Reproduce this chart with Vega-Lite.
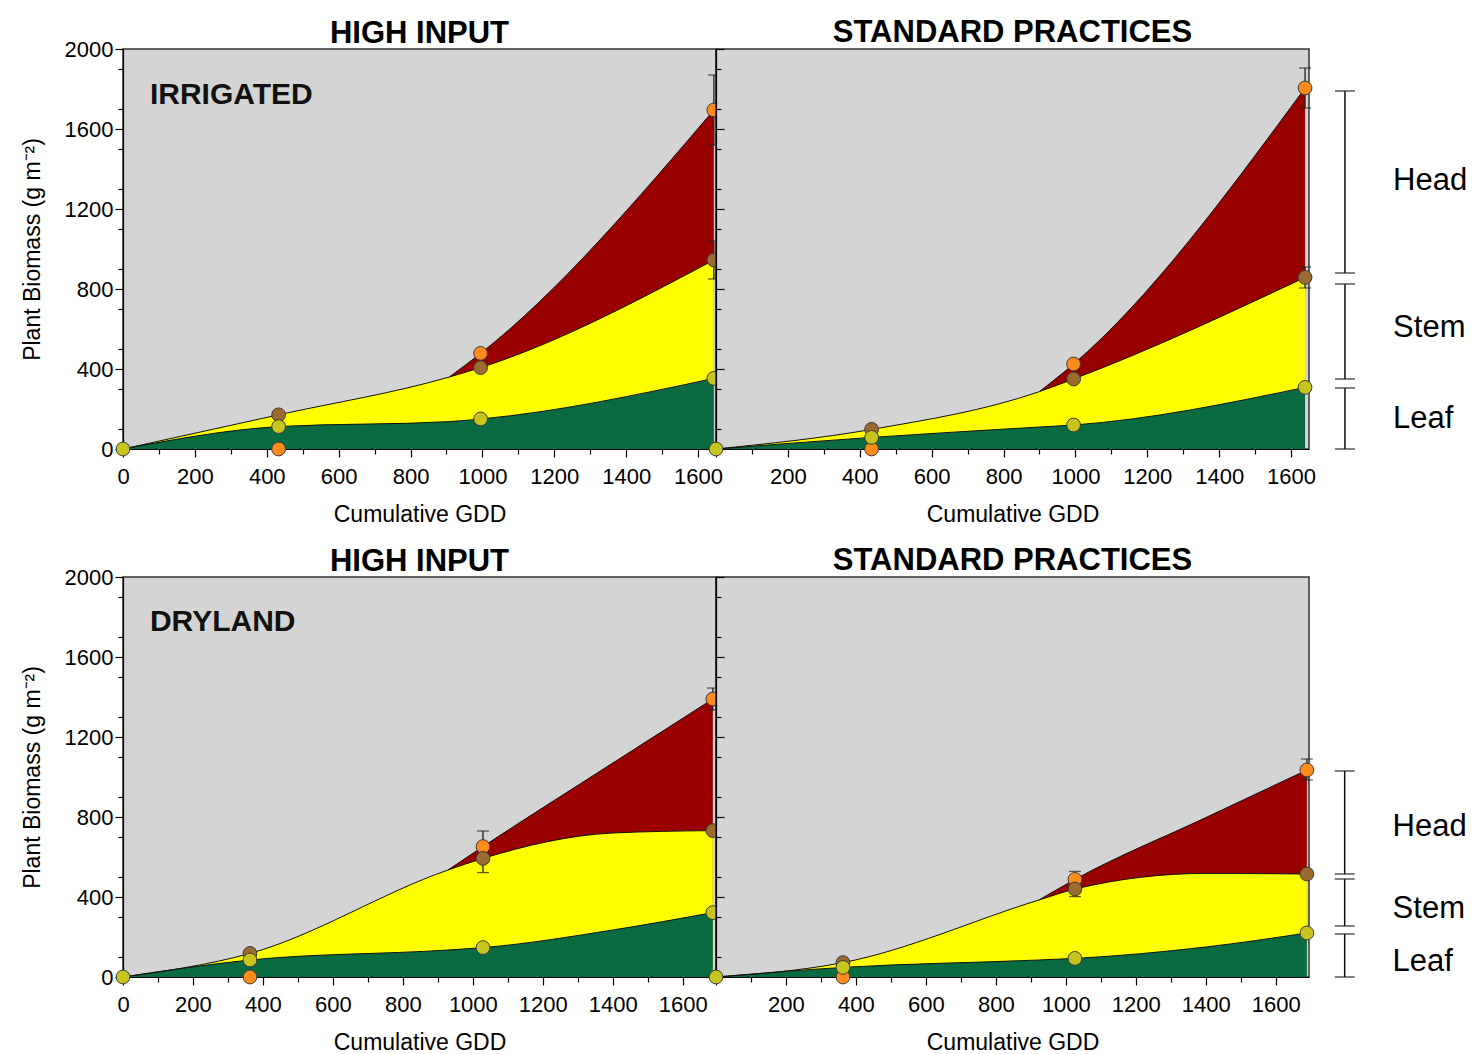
{
"$schema":"https://vega.github.io/schema/vega-lite/v6.json",
"background":"white",
"padding":{"left":20,"top":16,"right":0,"bottom":0},
"datasets":{
"curves":[
{"p":"TL","gdd":0,"leaf":0,"stem":0,"total":0},
{"p":"TL","gdd":433,"leaf":112,"stem":171,"total":171},
{"p":"TL","gdd":908,"leaf":137,"stem":360,"total":360},
{"p":"TL","gdd":995,"leaf":150,"stem":407,"total":478},
{"p":"TL","gdd":1644,"leaf":353,"stem":945,"total":1695},
{"p":"TR","gdd":0,"leaf":0,"stem":0,"total":0},
{"p":"TR","gdd":433,"leaf":58,"stem":98,"total":98},
{"p":"TR","gdd":900,"leaf":110,"stem":287,"total":287},
{"p":"TR","gdd":995,"leaf":120,"stem":350,"total":425},
{"p":"TR","gdd":1639,"leaf":308,"stem":858,"total":1805},
{"p":"BL","gdd":0,"leaf":0,"stem":0,"total":0},
{"p":"BL","gdd":363,"leaf":85,"stem":118,"total":118},
{"p":"BL","gdd":929,"leaf":135,"stem":535,"total":535},
{"p":"BL","gdd":1029,"leaf":147,"stem":593,"total":652},
{"p":"BL","gdd":1400,"leaf":235,"stem":720,"total":1070},
{"p":"BL","gdd":1686,"leaf":322,"stem":732,"total":1390},
{"p":"BR","gdd":0,"leaf":0,"stem":0,"total":0},
{"p":"BR","gdd":363,"leaf":48,"stem":72,"total":72},
{"p":"BR","gdd":923,"leaf":85,"stem":385,"total":385},
{"p":"BR","gdd":1026,"leaf":93,"stem":440,"total":488},
{"p":"BR","gdd":1400,"leaf":150,"stem":518,"total":797},
{"p":"BR","gdd":1689,"leaf":220,"stem":515,"total":1035}
],
"points":[
{"p":"TL","gdd":433,"part":"Head","value":0},
{"p":"TL","gdd":995,"part":"Head","value":478},
{"p":"TL","gdd":1644,"part":"Head","value":1695,"lo":1520,"hi":1870},
{"p":"TL","gdd":433,"part":"Stem","value":171},
{"p":"TL","gdd":995,"part":"Stem","value":407},
{"p":"TL","gdd":1644,"part":"Stem","value":945,"lo":850,"hi":1040},
{"p":"TL","gdd":0,"part":"Leaf","value":0},
{"p":"TL","gdd":433,"part":"Leaf","value":112},
{"p":"TL","gdd":995,"part":"Leaf","value":150},
{"p":"TL","gdd":1644,"part":"Leaf","value":353},
{"p":"TR","gdd":433,"part":"Head","value":0},
{"p":"TR","gdd":995,"part":"Head","value":425},
{"p":"TR","gdd":1639,"part":"Head","value":1805,"lo":1705,"hi":1905},
{"p":"TR","gdd":433,"part":"Stem","value":98},
{"p":"TR","gdd":995,"part":"Stem","value":350},
{"p":"TR","gdd":1639,"part":"Stem","value":858,"lo":805,"hi":910},
{"p":"TR","gdd":0,"part":"Leaf","value":0},
{"p":"TR","gdd":433,"part":"Leaf","value":58},
{"p":"TR","gdd":995,"part":"Leaf","value":120},
{"p":"TR","gdd":1639,"part":"Leaf","value":308},
{"p":"BL","gdd":363,"part":"Head","value":0},
{"p":"BL","gdd":1029,"part":"Head","value":652,"lo":574,"hi":730},
{"p":"BL","gdd":1686,"part":"Head","value":1390,"lo":1335,"hi":1445},
{"p":"BL","gdd":363,"part":"Stem","value":118},
{"p":"BL","gdd":1029,"part":"Stem","value":593,"lo":522,"hi":664},
{"p":"BL","gdd":1686,"part":"Stem","value":732},
{"p":"BL","gdd":0,"part":"Leaf","value":0},
{"p":"BL","gdd":363,"part":"Leaf","value":85},
{"p":"BL","gdd":1029,"part":"Leaf","value":147},
{"p":"BL","gdd":1686,"part":"Leaf","value":322},
{"p":"BR","gdd":363,"part":"Head","value":0},
{"p":"BR","gdd":1026,"part":"Head","value":488,"lo":448,"hi":528},
{"p":"BR","gdd":1689,"part":"Head","value":1035,"lo":985,"hi":1090},
{"p":"BR","gdd":363,"part":"Stem","value":72},
{"p":"BR","gdd":1026,"part":"Stem","value":440,"lo":402,"hi":478},
{"p":"BR","gdd":1689,"part":"Stem","value":515},
{"p":"BR","gdd":0,"part":"Leaf","value":0},
{"p":"BR","gdd":363,"part":"Leaf","value":48},
{"p":"BR","gdd":1026,"part":"Leaf","value":93},
{"p":"BR","gdd":1689,"part":"Leaf","value":220}
],
"bracketsTop":[
{"part":"Head","lo":880,"hi":1790,"mid":1340},
{"part":"Stem","lo":350,"hi":825,"mid":605},
{"part":"Leaf","lo":0,"hi":305,"mid":150}
],
"bracketsBottom":[
{"part":"Head","lo":515,"hi":1030,"mid":750},
{"part":"Stem","lo":255,"hi":490,"mid":340},
{"part":"Leaf","lo":0,"hi":215,"mid":75}
]
},
"vconcat":[
{"hconcat":[
{"width":593,"height":400,"title":{"text":"HIGH INPUT","offset":-12},
"resolve":{"axis":{"x":"independent","y":"independent"}},
"layer":[
{"layer":[
{"data":{"name":"curves"},"transform":[{"filter":"datum.p==='TL' && datum.gdd >= 908"}],
"mark":{"type":"area","color":"#9b0000","interpolate":"monotone"},
"encoding":{
"x":{"field":"gdd","type":"quantitative","scale":{"domain":[0,1650],"nice":false,"zero":false},
"axis":{"orient":"bottom","values":[0,200,400,600,800,1000,1200,1400,1600],"format":"d","tickSize":8,"labelPadding":9,"title":"Cumulative GDD","titlePadding":16}},
"y":{"field":"total","type":"quantitative","stack":null,"scale":{"domain":[0,2000],"nice":false},
"axis":{"orient":"left","values":[0,200,400,600,800,1000,1200,1400,1600,1800,2000],"format":"d","tickSize":8,"labelPadding":2,"title":"Plant Biomass (g m⁻²)","titlePadding":20}}}},
{"data":{"name":"curves"},"transform":[{"filter":"datum.p==='TL'"}],
"mark":{"type":"area","color":"#ffff00","interpolate":"monotone"},
"encoding":{"x":{"field":"gdd","type":"quantitative"},"y":{"field":"stem","type":"quantitative","stack":null}}},
{"data":{"name":"curves"},"transform":[{"filter":"datum.p==='TL'"}],
"mark":{"type":"area","color":"#0a6a40","interpolate":"monotone"},
"encoding":{"x":{"field":"gdd","type":"quantitative"},"y":{"field":"leaf","type":"quantitative","stack":null}}},
{"data":{"name":"curves"},"transform":[{"filter":"datum.p==='TL'"},{"fold":["leaf","stem"],"as":["k","v"]}],
"mark":{"type":"line","color":"#111","strokeWidth":1,"interpolate":"monotone"},
"encoding":{"x":{"field":"gdd","type":"quantitative"},"y":{"field":"v","type":"quantitative"},"detail":{"field":"k"}}},
{"data":{"name":"curves"},"transform":[{"filter":"datum.p==='TL' && datum.gdd >= 908"}],
"mark":{"type":"line","color":"#111","strokeWidth":1,"interpolate":"monotone"},
"encoding":{"x":{"field":"gdd","type":"quantitative"},"y":{"field":"total","type":"quantitative"}}},
{"data":{"name":"points"},"transform":[{"filter":"datum.p==='TL' && isValid(datum.lo)"}],
"mark":{"type":"rule","color":"#222","strokeWidth":1.3},
"encoding":{"x":{"field":"gdd","type":"quantitative"},"y":{"field":"lo","type":"quantitative"},"y2":{"field":"hi"}}},
{"data":{"name":"points"},"transform":[{"filter":"datum.p==='TL' && isValid(datum.lo)"}],
"mark":{"type":"tick","orient":"horizontal","color":"#222","size":12,"thickness":1.3},
"encoding":{"x":{"field":"gdd","type":"quantitative"},"y":{"field":"lo","type":"quantitative"}}},
{"data":{"name":"points"},"transform":[{"filter":"datum.p==='TL' && isValid(datum.lo)"}],
"mark":{"type":"tick","orient":"horizontal","color":"#222","size":12,"thickness":1.3},
"encoding":{"x":{"field":"gdd","type":"quantitative"},"y":{"field":"hi","type":"quantitative"}}},
{"data":{"name":"points"},"transform":[{"filter":"datum.p==='TL'"}],
"mark":{"type":"circle","size":190,"opacity":1,"stroke":"#3a3a3a","strokeWidth":1},
"encoding":{"x":{"field":"gdd","type":"quantitative"},"y":{"field":"value","type":"quantitative"},
"color":{"field":"part","type":"nominal","scale":{"domain":["Head","Stem","Leaf"],"range":["#ff8c1a","#9c6b30","#c8c41e"]},"legend":null}}},
{"data":{"values":[{"label":"IRRIGATED"}]},
"mark":{"type":"text","align":"left","baseline":"alphabetic","font":"Liberation Sans","fontSize":30,"fontWeight":"bold","color":"#111"},
"encoding":{"x":{"datum":75,"type":"quantitative"},"y":{"datum":1725,"type":"quantitative"},"text":{"field":"label"}}}
]},
{"data":{"name":"curves"},"transform":[{"filter":"datum.p==='TL'"}],"mark":{"type":"point","opacity":0},
"encoding":{"x":{"field":"gdd","type":"quantitative","axis":{"orient":"bottom","values":[100,300,500,700,900,1100,1300,1500],"tickSize":5,"labels":false,"domain":false,"title":null}},
"y":{"field":"leaf","type":"quantitative","axis":{"orient":"left","values":[100,300,500,700,900,1100,1300,1500,1700,1900],"tickSize":5,"labels":false,"domain":false,"title":null}}}}
]},
{"width":593,"height":400,"title":{"text":"STANDARD PRACTICES","offset":-1},
"resolve":{"axis":{"x":"independent","y":"independent"}},
"layer":[
{"layer":[
{"data":{"name":"curves"},"transform":[{"filter":"datum.p==='TR' && datum.gdd >= 900"}],
"mark":{"type":"area","color":"#9b0000","interpolate":"monotone"},
"encoding":{
"x":{"field":"gdd","type":"quantitative","scale":{"domain":[0,1650],"nice":false,"zero":false},
"axis":{"orient":"bottom","values":[0,200,400,600,800,1000,1200,1400,1600],"format":"d","tickSize":8,"labelPadding":9,"title":"Cumulative GDD","titlePadding":16,"labelExpr":"datum.value === 0 ? '' : datum.label"}},
"y":{"field":"total","type":"quantitative","stack":null,"scale":{"domain":[0,2000],"nice":false},
"axis":{"orient":"left","values":[0,200,400,600,800,1000,1200,1400,1600,1800,2000],"tickSize":-8,"labels":false,"title":null}}}},
{"data":{"name":"curves"},"transform":[{"filter":"datum.p==='TR'"}],
"mark":{"type":"area","color":"#ffff00","interpolate":"monotone"},
"encoding":{"x":{"field":"gdd","type":"quantitative"},"y":{"field":"stem","type":"quantitative","stack":null}}},
{"data":{"name":"curves"},"transform":[{"filter":"datum.p==='TR'"}],
"mark":{"type":"area","color":"#0a6a40","interpolate":"monotone"},
"encoding":{"x":{"field":"gdd","type":"quantitative"},"y":{"field":"leaf","type":"quantitative","stack":null}}},
{"data":{"name":"curves"},"transform":[{"filter":"datum.p==='TR'"},{"fold":["leaf","stem"],"as":["k","v"]}],
"mark":{"type":"line","color":"#111","strokeWidth":1,"interpolate":"monotone"},
"encoding":{"x":{"field":"gdd","type":"quantitative"},"y":{"field":"v","type":"quantitative"},"detail":{"field":"k"}}},
{"data":{"name":"curves"},"transform":[{"filter":"datum.p==='TR' && datum.gdd >= 900"}],
"mark":{"type":"line","color":"#111","strokeWidth":1,"interpolate":"monotone"},
"encoding":{"x":{"field":"gdd","type":"quantitative"},"y":{"field":"total","type":"quantitative"}}},
{"data":{"name":"points"},"transform":[{"filter":"datum.p==='TR' && isValid(datum.lo)"}],
"mark":{"type":"rule","color":"#222","strokeWidth":1.3},
"encoding":{"x":{"field":"gdd","type":"quantitative"},"y":{"field":"lo","type":"quantitative"},"y2":{"field":"hi"}}},
{"data":{"name":"points"},"transform":[{"filter":"datum.p==='TR' && isValid(datum.lo)"}],
"mark":{"type":"tick","orient":"horizontal","color":"#222","size":12,"thickness":1.3},
"encoding":{"x":{"field":"gdd","type":"quantitative"},"y":{"field":"lo","type":"quantitative"}}},
{"data":{"name":"points"},"transform":[{"filter":"datum.p==='TR' && isValid(datum.lo)"}],
"mark":{"type":"tick","orient":"horizontal","color":"#222","size":12,"thickness":1.3},
"encoding":{"x":{"field":"gdd","type":"quantitative"},"y":{"field":"hi","type":"quantitative"}}},
{"data":{"name":"points"},"transform":[{"filter":"datum.p==='TR'"}],
"mark":{"type":"circle","size":190,"opacity":1,"stroke":"#3a3a3a","strokeWidth":1},
"encoding":{"x":{"field":"gdd","type":"quantitative"},"y":{"field":"value","type":"quantitative"},
"color":{"field":"part","type":"nominal","scale":{"domain":["Head","Stem","Leaf"],"range":["#ff8c1a","#9c6b30","#c8c41e"]},"legend":null}}},
{"data":{"name":"bracketsTop"},"mark":{"type":"rule","color":"#111","strokeWidth":1.5},
"encoding":{"x":{"datum":1750,"type":"quantitative"},"y":{"field":"lo","type":"quantitative"},"y2":{"field":"hi"}}},
{"data":{"name":"bracketsTop"},"mark":{"type":"tick","orient":"horizontal","color":"#111","size":20,"thickness":1.5},
"encoding":{"x":{"datum":1750,"type":"quantitative"},"y":{"field":"lo","type":"quantitative"}}},
{"data":{"name":"bracketsTop"},"mark":{"type":"tick","orient":"horizontal","color":"#111","size":20,"thickness":1.5},
"encoding":{"x":{"datum":1750,"type":"quantitative"},"y":{"field":"hi","type":"quantitative"}}},
{"data":{"name":"bracketsTop"},"mark":{"type":"text","align":"left","baseline":"middle","font":"Liberation Sans","fontSize":31,"color":"#000"},
"encoding":{"x":{"datum":1884,"type":"quantitative"},"y":{"field":"mid","type":"quantitative"},"text":{"field":"part"}}}
]},
{"data":{"name":"curves"},"transform":[{"filter":"datum.p==='TR'"}],"mark":{"type":"point","opacity":0},
"encoding":{"x":{"field":"gdd","type":"quantitative","axis":{"orient":"bottom","values":[100,300,500,700,900,1100,1300,1500],"tickSize":5,"labels":false,"domain":false,"title":null}},
"y":{"field":"leaf","type":"quantitative","axis":{"orient":"left","values":[100,300,500,700,900,1100,1300,1500,1700,1900],"tickSize":-5,"labels":false,"domain":false,"title":null}}}}
]}
],"spacing":0,"bounds":"flush"},
{"hconcat":[
{"width":593,"height":400,"title":{"text":"HIGH INPUT","offset":-12},
"resolve":{"axis":{"x":"independent","y":"independent"}},
"layer":[
{"layer":[
{"data":{"name":"curves"},"transform":[{"filter":"datum.p==='BL' && datum.gdd >= 929"}],
"mark":{"type":"area","color":"#9b0000","interpolate":"monotone"},
"encoding":{
"x":{"field":"gdd","type":"quantitative","scale":{"domain":[0,1695],"nice":false,"zero":false},
"axis":{"orient":"bottom","values":[0,200,400,600,800,1000,1200,1400,1600],"format":"d","tickSize":8,"labelPadding":9,"title":"Cumulative GDD","titlePadding":16}},
"y":{"field":"total","type":"quantitative","stack":null,"scale":{"domain":[0,2000],"nice":false},
"axis":{"orient":"left","values":[0,200,400,600,800,1000,1200,1400,1600,1800,2000],"format":"d","tickSize":8,"labelPadding":2,"title":"Plant Biomass (g m⁻²)","titlePadding":20}}}},
{"data":{"name":"curves"},"transform":[{"filter":"datum.p==='BL'"}],
"mark":{"type":"area","color":"#ffff00","interpolate":"monotone"},
"encoding":{"x":{"field":"gdd","type":"quantitative"},"y":{"field":"stem","type":"quantitative","stack":null}}},
{"data":{"name":"curves"},"transform":[{"filter":"datum.p==='BL'"}],
"mark":{"type":"area","color":"#0a6a40","interpolate":"monotone"},
"encoding":{"x":{"field":"gdd","type":"quantitative"},"y":{"field":"leaf","type":"quantitative","stack":null}}},
{"data":{"name":"curves"},"transform":[{"filter":"datum.p==='BL'"},{"fold":["leaf","stem"],"as":["k","v"]}],
"mark":{"type":"line","color":"#111","strokeWidth":1,"interpolate":"monotone"},
"encoding":{"x":{"field":"gdd","type":"quantitative"},"y":{"field":"v","type":"quantitative"},"detail":{"field":"k"}}},
{"data":{"name":"curves"},"transform":[{"filter":"datum.p==='BL' && datum.gdd >= 929"}],
"mark":{"type":"line","color":"#111","strokeWidth":1,"interpolate":"monotone"},
"encoding":{"x":{"field":"gdd","type":"quantitative"},"y":{"field":"total","type":"quantitative"}}},
{"data":{"name":"points"},"transform":[{"filter":"datum.p==='BL' && isValid(datum.lo)"}],
"mark":{"type":"rule","color":"#222","strokeWidth":1.3},
"encoding":{"x":{"field":"gdd","type":"quantitative"},"y":{"field":"lo","type":"quantitative"},"y2":{"field":"hi"}}},
{"data":{"name":"points"},"transform":[{"filter":"datum.p==='BL' && isValid(datum.lo)"}],
"mark":{"type":"tick","orient":"horizontal","color":"#222","size":12,"thickness":1.3},
"encoding":{"x":{"field":"gdd","type":"quantitative"},"y":{"field":"lo","type":"quantitative"}}},
{"data":{"name":"points"},"transform":[{"filter":"datum.p==='BL' && isValid(datum.lo)"}],
"mark":{"type":"tick","orient":"horizontal","color":"#222","size":12,"thickness":1.3},
"encoding":{"x":{"field":"gdd","type":"quantitative"},"y":{"field":"hi","type":"quantitative"}}},
{"data":{"name":"points"},"transform":[{"filter":"datum.p==='BL'"}],
"mark":{"type":"circle","size":190,"opacity":1,"stroke":"#3a3a3a","strokeWidth":1},
"encoding":{"x":{"field":"gdd","type":"quantitative"},"y":{"field":"value","type":"quantitative"},
"color":{"field":"part","type":"nominal","scale":{"domain":["Head","Stem","Leaf"],"range":["#ff8c1a","#9c6b30","#c8c41e"]},"legend":null}}},
{"data":{"values":[{"label":"DRYLAND"}]},
"mark":{"type":"text","align":"left","baseline":"alphabetic","font":"Liberation Sans","fontSize":30,"fontWeight":"bold","color":"#111"},
"encoding":{"x":{"datum":77,"type":"quantitative"},"y":{"datum":1730,"type":"quantitative"},"text":{"field":"label"}}}
]},
{"data":{"name":"curves"},"transform":[{"filter":"datum.p==='BL'"}],"mark":{"type":"point","opacity":0},
"encoding":{"x":{"field":"gdd","type":"quantitative","axis":{"orient":"bottom","values":[100,300,500,700,900,1100,1300,1500],"tickSize":5,"labels":false,"domain":false,"title":null}},
"y":{"field":"leaf","type":"quantitative","axis":{"orient":"left","values":[100,300,500,700,900,1100,1300,1500,1700,1900],"tickSize":5,"labels":false,"domain":false,"title":null}}}}
]},
{"width":593,"height":400,"title":{"text":"STANDARD PRACTICES","offset":-1},
"resolve":{"axis":{"x":"independent","y":"independent"}},
"layer":[
{"layer":[
{"data":{"name":"curves"},"transform":[{"filter":"datum.p==='BR' && datum.gdd >= 923"}],
"mark":{"type":"area","color":"#9b0000","interpolate":"monotone"},
"encoding":{
"x":{"field":"gdd","type":"quantitative","scale":{"domain":[0,1695],"nice":false,"zero":false},
"axis":{"orient":"bottom","values":[0,200,400,600,800,1000,1200,1400,1600],"format":"d","tickSize":8,"labelPadding":9,"title":"Cumulative GDD","titlePadding":16,"labelExpr":"datum.value === 0 ? '' : datum.label"}},
"y":{"field":"total","type":"quantitative","stack":null,"scale":{"domain":[0,2000],"nice":false},
"axis":{"orient":"left","values":[0,200,400,600,800,1000,1200,1400,1600,1800,2000],"tickSize":-8,"labels":false,"title":null}}}},
{"data":{"name":"curves"},"transform":[{"filter":"datum.p==='BR'"}],
"mark":{"type":"area","color":"#ffff00","interpolate":"monotone"},
"encoding":{"x":{"field":"gdd","type":"quantitative"},"y":{"field":"stem","type":"quantitative","stack":null}}},
{"data":{"name":"curves"},"transform":[{"filter":"datum.p==='BR'"}],
"mark":{"type":"area","color":"#0a6a40","interpolate":"monotone"},
"encoding":{"x":{"field":"gdd","type":"quantitative"},"y":{"field":"leaf","type":"quantitative","stack":null}}},
{"data":{"name":"curves"},"transform":[{"filter":"datum.p==='BR'"},{"fold":["leaf","stem"],"as":["k","v"]}],
"mark":{"type":"line","color":"#111","strokeWidth":1,"interpolate":"monotone"},
"encoding":{"x":{"field":"gdd","type":"quantitative"},"y":{"field":"v","type":"quantitative"},"detail":{"field":"k"}}},
{"data":{"name":"curves"},"transform":[{"filter":"datum.p==='BR' && datum.gdd >= 923"}],
"mark":{"type":"line","color":"#111","strokeWidth":1,"interpolate":"monotone"},
"encoding":{"x":{"field":"gdd","type":"quantitative"},"y":{"field":"total","type":"quantitative"}}},
{"data":{"name":"points"},"transform":[{"filter":"datum.p==='BR' && isValid(datum.lo)"}],
"mark":{"type":"rule","color":"#222","strokeWidth":1.3},
"encoding":{"x":{"field":"gdd","type":"quantitative"},"y":{"field":"lo","type":"quantitative"},"y2":{"field":"hi"}}},
{"data":{"name":"points"},"transform":[{"filter":"datum.p==='BR' && isValid(datum.lo)"}],
"mark":{"type":"tick","orient":"horizontal","color":"#222","size":12,"thickness":1.3},
"encoding":{"x":{"field":"gdd","type":"quantitative"},"y":{"field":"lo","type":"quantitative"}}},
{"data":{"name":"points"},"transform":[{"filter":"datum.p==='BR' && isValid(datum.lo)"}],
"mark":{"type":"tick","orient":"horizontal","color":"#222","size":12,"thickness":1.3},
"encoding":{"x":{"field":"gdd","type":"quantitative"},"y":{"field":"hi","type":"quantitative"}}},
{"data":{"name":"points"},"transform":[{"filter":"datum.p==='BR'"}],
"mark":{"type":"circle","size":190,"opacity":1,"stroke":"#3a3a3a","strokeWidth":1},
"encoding":{"x":{"field":"gdd","type":"quantitative"},"y":{"field":"value","type":"quantitative"},
"color":{"field":"part","type":"nominal","scale":{"domain":["Head","Stem","Leaf"],"range":["#ff8c1a","#9c6b30","#c8c41e"]},"legend":null}}},
{"data":{"name":"bracketsBottom"},"mark":{"type":"rule","color":"#111","strokeWidth":1.5},
"encoding":{"x":{"datum":1797,"type":"quantitative"},"y":{"field":"lo","type":"quantitative"},"y2":{"field":"hi"}}},
{"data":{"name":"bracketsBottom"},"mark":{"type":"tick","orient":"horizontal","color":"#111","size":20,"thickness":1.5},
"encoding":{"x":{"datum":1797,"type":"quantitative"},"y":{"field":"lo","type":"quantitative"}}},
{"data":{"name":"bracketsBottom"},"mark":{"type":"tick","orient":"horizontal","color":"#111","size":20,"thickness":1.5},
"encoding":{"x":{"datum":1797,"type":"quantitative"},"y":{"field":"hi","type":"quantitative"}}},
{"data":{"name":"bracketsBottom"},"mark":{"type":"text","align":"left","baseline":"middle","font":"Liberation Sans","fontSize":31,"color":"#000"},
"encoding":{"x":{"datum":1934,"type":"quantitative"},"y":{"field":"mid","type":"quantitative"},"text":{"field":"part"}}}
]},
{"data":{"name":"curves"},"transform":[{"filter":"datum.p==='BR'"}],"mark":{"type":"point","opacity":0},
"encoding":{"x":{"field":"gdd","type":"quantitative","axis":{"orient":"bottom","values":[100,300,500,700,900,1100,1300,1500],"tickSize":5,"labels":false,"domain":false,"title":null}},
"y":{"field":"leaf","type":"quantitative","axis":{"orient":"left","values":[100,300,500,700,900,1100,1300,1500,1700,1900],"tickSize":-5,"labels":false,"domain":false,"title":null}}}}
]}
],"spacing":0,"bounds":"flush"}
],
"spacing":17,
"config":{
"view":{"fill":"#d4d4d4","stroke":"#333333","strokeWidth":1.5},
"axis":{"grid":false,"labelFont":"Liberation Sans","labelFontSize":22,"labelColor":"#000","titleFont":"Liberation Sans","titleFontSize":23,"titleFontWeight":"normal","titleColor":"#000","tickColor":"#000","domainColor":"#000","domainWidth":1.2,"tickWidth":1.2,"labelFlush":false,"labelOverlap":false,"zindex":1},
"title":{"font":"Liberation Sans","fontSize":31,"fontWeight":"bold","color":"#000","baseline":"alphabetic"}
}
}
